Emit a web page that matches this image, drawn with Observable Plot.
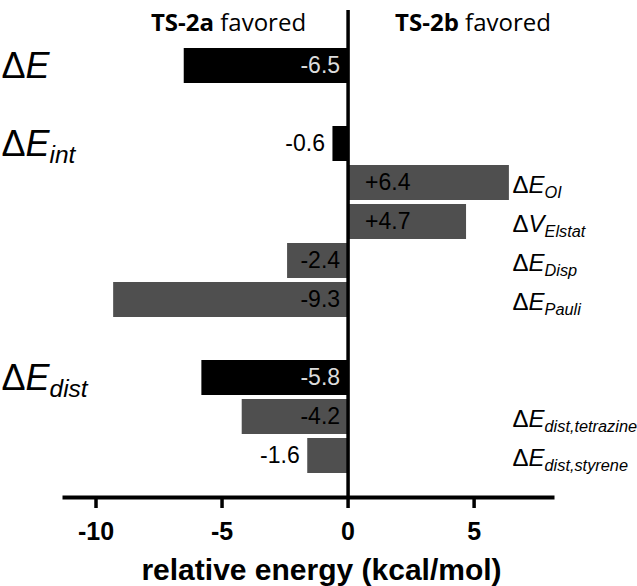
<!DOCTYPE html>
<html>
<head>
<meta charset="utf-8">
<script src="https://cdn.jsdelivr.net/npm/d3@7"></script>
<script src="https://cdn.jsdelivr.net/npm/@observablehq/plot@0.6"></script>
<style>
  html, body { margin: 0; padding: 0; background: #fff; }
  #chart { width: 637px; height: 586px; }
</style>
</head>
<body>
<div id="chart"></div>
<script>
// ---- data ----
const terms = ["ΔE", "ΔE_int", "ΔE_OI", "ΔV_Elstat", "ΔE_Disp", "ΔE_Pauli", "ΔE_dist", "ΔE_dist,tetrazine", "ΔE_dist,styrene"];
const values = [-6.5, -0.6, 6.4, 4.7, -2.4, -9.3, -5.8, -4.2, -1.6];
const valueLabels = ["-6.5", "-0.6", "+6.4", "+4.7", "-2.4", "-9.3", "-5.8", "-4.2", "-1.6"];
const levels = ["total", "total", "part", "part", "part", "part", "total", "part", "part"];
const rows = ["ΔE", "gap-a", "ΔE_int", "ΔE_OI", "ΔV_Elstat", "ΔE_Disp", "ΔE_Pauli", "gap-b", "ΔE_dist", "ΔE_dist,tetrazine", "ΔE_dist,styrene"];
const xTicks = [-10, -5, 0, 5];
const headers = ["TS-2a favored", "TS-2b favored"];
const xTitle = "relative energy (kcal/mol)";

const data = terms.map((t, i) => ({term: t, value: values[i], label: valueLabels[i], level: levels[i]}));
const insideNeg = data.filter(d => d.value <= -2);
const insidePos = data.filter(d => d.value >= 2);
const outside = data.filter(d => Math.abs(d.value) < 2);

const BLACK = "#000";
const GRAY = "#4f4f4f";
const FONT = "Liberation Sans, Arial, sans-serif";
const VSIZE = 23;
const labelFill = d => d.level === "total" ? "#dcdcdc" : "#000";

const svg = Plot.plot({
  width: 637,
  height: 586,
  marginLeft: 64,
  marginRight: 85,
  marginTop: 10,
  marginBottom: 89,
  style: {fontFamily: FONT, fontSize: "22px", color: "#000", background: "#fff", overflow: "visible"},
  x: {domain: [-11.25, 8.11], axis: null},
  y: {domain: rows, range: [40, 481], padding: 0.1, axis: null},
  marks: [
    Plot.barX(data, {x: "value", y: "term", fill: d => d.level === "total" ? BLACK : GRAY}),
    // value labels inside bars
    Plot.text(insideNeg, {x: 0, y: "term", text: "label", textAnchor: "end", dx: -8, fill: labelFill, fontSize: VSIZE, fontFamily: FONT}),
    Plot.text(insidePos, {x: 0, y: "term", text: "label", textAnchor: "start", dx: 17, fill: labelFill, fontSize: VSIZE, fontFamily: FONT}),
    // value labels outside bars
    Plot.text(outside, {x: "value", y: "term", text: "label", textAnchor: "end", dx: -8, fill: "#000", fontSize: VSIZE, fontFamily: FONT}),
    // left labels (totals)
    Plot.text(data.filter(d => d.level === "total"), {
      y: "term", text: "term", frameAnchor: "left", textAnchor: "start",
      dx: -63, dy: 0, fontSize: 36, fill: "#000", fontFamily: FONT
    }),
    // right labels (components)
    Plot.text(data.filter(d => d.level === "part"), {
      y: "term", text: "term", frameAnchor: "right", textAnchor: "start",
      dx: -40, dy: 2, fontSize: 24, fill: "#000", fontFamily: FONT
    }),
    // headers
    Plot.text([headers[0]], {x: () => 0, text: d => d, frameAnchor: "top", textAnchor: "end", dx: -42, dy: 3, fontSize: 24, fontFamily: "Open Sans, sans-serif", fill: "#000"}),
    Plot.text([headers[1]], {x: () => 0, text: d => d, frameAnchor: "top", textAnchor: "start", dx: 47, dy: 3, fontSize: 24, fontFamily: "Open Sans, sans-serif", fill: "#000"}),
    // zero line
    Plot.ruleX([0], {stroke: "#000", strokeWidth: 3.5}),
    // axis line
    Plot.frame({anchor: "bottom", stroke: "#000", strokeWidth: 4}),
    Plot.axisX({
      ticks: xTicks, tickFormat: d => String(d), tickSize: 11, tickPadding: 14,
      strokeWidth: 3.5, fontSize: 25, fontWeight: "bold", fontFamily: FONT, label: null, color: "#000"
    }),
    Plot.text([xTitle], {text: d => d, frameAnchor: "bottom", lineAnchor: "top", dx: 13, dy: 61, fontSize: 30, fontWeight: "bold", fontFamily: FONT, fill: "#000"})
  ]
});

const NS = "http://www.w3.org/2000/svg";
function ts(parent, txt, attrs) {
  const el = document.createElementNS(NS, "tspan");
  el.textContent = txt;
  for (const k in attrs) el.setAttribute(k, attrs[k]);
  parent.appendChild(el);
  return el;
}
svg.querySelectorAll("text").forEach(t => {
  const s = t.textContent;
  if (s.startsWith("TS-")) {
    const i = s.indexOf(" ");
    t.textContent = "";
    ts(t, s.slice(0, i), {"font-weight": "bold"});
    ts(t, s.slice(i), {"font-weight": "normal"});
  } else if (s.includes("_")) {
    const [main, sub] = s.split("_");
    t.textContent = "";
    ts(t, main.slice(0, 1), {});
    ts(t, main.slice(1), {"font-style": "italic"});
    ts(t, sub, {"font-style": "italic", "font-size": "0.68em", "dy": "0.32em"});
  } else if (s === "ΔE") {
    t.textContent = "";
    ts(t, "Δ", {});
    ts(t, "E", {"font-style": "italic"});
  }
});
document.getElementById("chart").appendChild(svg);
</script>
</body>
</html>
